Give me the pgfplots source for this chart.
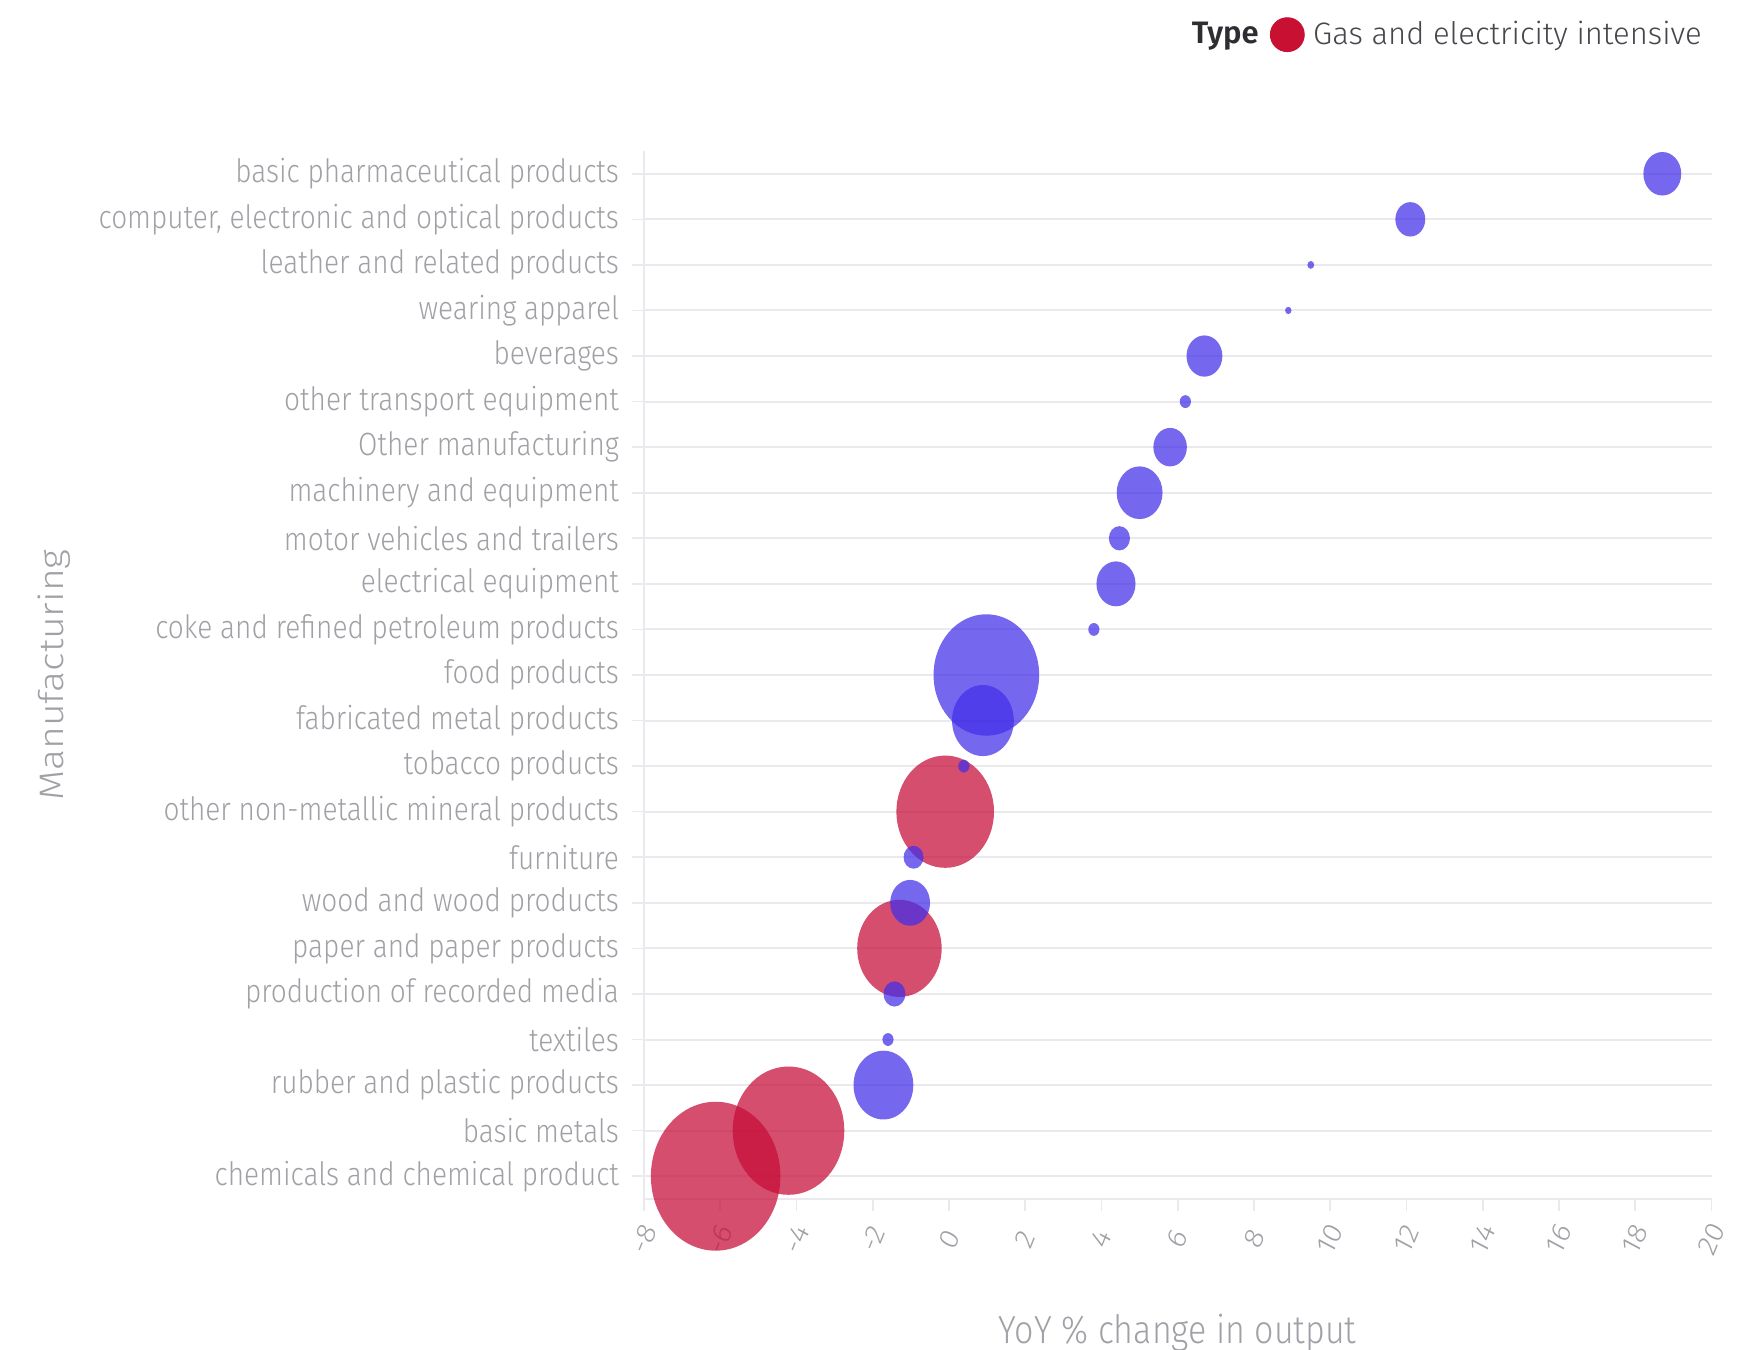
\documentclass[border=0pt]{standalone}
\usepackage{fontspec}
\setmainfont{Fira Sans}[UprightFont=* Light, BoldFont=* SemiBold]
\usepackage{pgfplots}
\pgfplotsset{compat=1.18}
\usepackage{pgfplotstable}

\definecolor{bubblue}{RGB}{66,46,232}
\definecolor{bubred}{RGB}{199,12,56}
\definecolor{legendred}{RGB}{200,16,50}
\definecolor{labelgrey}{RGB}{160,160,166}
\definecolor{gridgrey}{RGB}{234,234,238}
\definecolor{legendtext}{RGB}{70,70,76}
\definecolor{titletext}{RGB}{45,45,50}

% pos: row (0 = bottom), yoy: YoY % change in output, r: bubble radius (bp)
\pgfplotstableread{
pos yoy r
8 -0.10 24.5
5 -1.30 21.2
1 -4.21 28.0
0 -6.12 32.5
}\gasdata
\pgfplotstableread{
pos yoy r
22 18.71 9.5
21 12.10 7.5
20 9.49 1.7
19 8.90 1.6
18 6.70 9.0
17 6.20 2.8
16 5.80 8.4
15 5.00 11.5
14 4.47 5.3
13 4.38 9.8
12 3.80 2.8
11 0.98 26.5
10 0.89 15.5
9 0.39 2.8
7 -0.93 5.0
6 -1.02 10.0
4 -1.43 5.5
3 -1.60 2.8
2 -1.72 15.0
}\otherdata

% translucent bubbles whose radius comes from the r column
\pgfplotsset{
  bubble/.style={scatter, only marks, mark=*, point meta=\thisrow{r},
    visualization depends on={\thisrow{r}\as\rad},
    scatter/@pre marker code/.code={%
      \scope[mark size=\rad, yscale=1.15, color=#1, draw opacity=0, fill opacity=0.73]},
    scatter/@post marker code/.code={\endscope}},
}

\begin{document}
\begin{tikzpicture}
\path[use as bounding box] (0bp,0bp) rectangle (877bp,675bp);
\begin{axis}[
  at={(322bp,75.5bp)}, anchor=south west,
  scale only axis, width=533.75bp, height=524bp,
  clip=false,
  xmin=-8, xmax=20, ymin=-0.5, ymax=22.5,
  xtick={-8,-6,...,20},
  ytick={0,...,22},
  yticklabels={chemicals and chemical product, basic metals, rubber and plastic products, textiles, production of recorded media, paper and paper products, wood and wood products, furniture, other non-metallic mineral products, tobacco products, fabricated metal products, food products, coke and refined petroleum products, electrical equipment, motor vehicles and trailers, machinery and equipment, Other manufacturing, other transport equipment, beverages, wearing apparel, leather and related products, {computer, electronic and optical products}, basic pharmaceutical products},
  axis x line*=bottom, axis y line*=left,
  axis line style={-, draw=gridgrey, line width=1bp},
  tick align=outside, major tick length=6bp,
  tick style={draw=gridgrey, line width=0.8bp},
  ymajorgrids, grid style={draw=gridgrey, line width=1bp},
  /pgf/number format/assume math mode=true,
  yticklabel style={font=\fontsize{14bp}{16bp}\selectfont, text=labelgrey, xshift=-3bp, yscale=1.15},
  xticklabel style={font=\fontsize{13.5bp}{16bp}\selectfont, text=labelgrey, yscale=1.15, rotate=65, anchor=center},
  xticklabel shift=14bp,
  xlabel={YoY \% change in output},
  ylabel={Manufacturing},
  xlabel style={font=\fontsize{17bp}{19bp}\selectfont, text=labelgrey, at={(axis description cs:0.5,-0.1279)}, anchor=center, yscale=1.15},
  ylabel style={font=\fontsize{17bp}{19bp}\selectfont, text=labelgrey, at={(axis description cs:-0.5527,0.5)}, anchor=center, xscale=1.15},
  legend columns=2,
  legend style={draw=none, fill=none, at={(axis description cs:0.995,1.1110)}, anchor=east,
    font=\fontsize{15.5bp}{18bp}\selectfont, text=legendtext, inner sep=0pt,
    /tikz/every even column/.append style={column sep=3.6bp},
    /tikz/every odd column/.append style={column sep=2.2bp}},
]
\addlegendimage{empty legend}
\addlegendentry{\textcolor{titletext}{\textbf{Type}}}
\addlegendimage{legend image code/.code={\fill[legendred] (0bp,0bp) circle (8.5bp);}}
\addlegendentry{Gas and electricity intensive}

% gas and electricity intensive industries
\addplot[forget plot, bubble=bubred] table[x=yoy, y=pos] {\gasdata};

% all other industries
\addplot[forget plot, bubble=bubblue] table[x=yoy, y=pos] {\otherdata};
\end{axis}
\end{tikzpicture}
\end{document}
